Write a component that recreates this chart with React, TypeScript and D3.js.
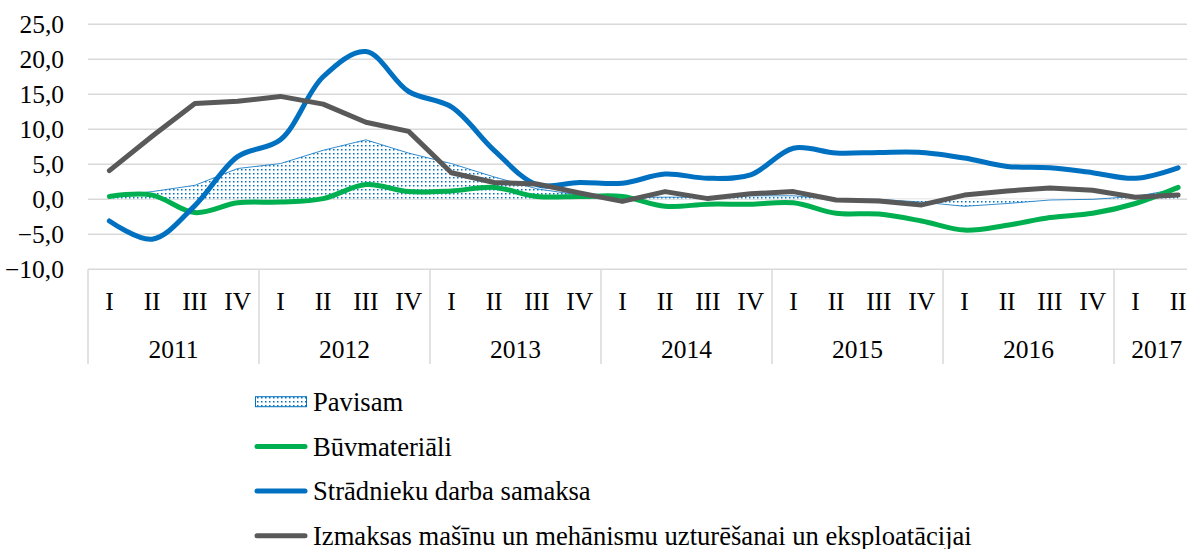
import React from 'react';
import * as d3 from 'd3';

const years = ['2011', '2012', '2013', '2014', '2015', '2016', '2017'];
const quarterNames = ['I', 'II', 'III', 'IV'];
const quartersPerYear = [4, 4, 4, 4, 4, 4, 2];

// Pavisam (area)
const totalValues = [0.4, 1.1, 2.0, 4.4, 5.1, 7.0, 8.5, 6.6, 5.1, 3.2, 1.5, 0.6, 0.3, 0.3, 0.3, 0.5, 0.5, 0.0, 0.0, -0.4, -1.0, -0.6, -0.1, 0.0, 0.4, 1.5];
// Būvmateriāli
const materialValues = [0.4, 0.6, -1.9, -0.5, -0.4, 0.1, 2.1, 1.1, 1.2, 1.7, 0.4, 0.4, 0.4, -1.0, -0.7, -0.7, -0.5, -2.0, -2.1, -3.1, -4.4, -3.7, -2.6, -2.0, -0.6, 1.7];
// Strādnieku darba samaksa
const wageValues = [-3.1, -5.7, -0.9, 6.1, 8.5, 17.5, 21.1, 15.4, 13.2, 7.0, 2.1, 2.4, 2.3, 3.6, 3.0, 3.5, 7.3, 6.6, 6.7, 6.7, 5.9, 4.7, 4.5, 3.8, 3.0, 4.5];
// Izmaksas mašīnu un mehānismu ...
const machineValues = [4.1, 9.0, 13.7, 14.0, 14.7, 13.6, 11.0, 9.7, 3.8, 2.4, 2.2, 0.9, -0.3, 1.1, 0.1, 0.8, 1.1, -0.1, -0.25, -0.8, 0.6, 1.2, 1.6, 1.3, 0.3, 0.6];

const yTicks = [25, 20, 15, 10, 5, 0, -5, -10];

const legendItems = [
  { label: 'Pavisam', kind: 'area', color: '#0070C0' },
  { label: 'Būvmateriāli', kind: 'line', color: '#00B050' },
  { label: 'Strādnieku darba samaksa', kind: 'line', color: '#0070C0' },
  { label: 'Izmaksas mašīnu un mehānismu uzturēšanai un eksploatācijai', kind: 'line', color: '#595959' },
];

const W = 1187;
const H = 549;
const font = 'Liberation Serif, Times New Roman, serif';
const fs = 25.5;
const legendFs = 26.6;

export default function App() {
  const x = d3.scaleLinear().domain([0, 26]).range([88, 1199.5]);
  const y = d3.scaleLinear().domain([-10, 25]).range([269.3, 24.3]);
  const px = (i: number) => x(i + 0.5);

  const area = d3.area<number>().x((_, i) => px(i)).y0(y(0)).y1(d => y(d));
  const topLine = d3.line<number>().x((_, i) => px(i)).y(d => y(d));
  const smooth = d3.line<number>().x((_, i) => px(i)).y(d => y(d)).curve(d3.curveCatmullRom.alpha(0.5));
  const straight = d3.line<number>().x((_, i) => px(i)).y(d => y(d));

  // quarter labels and year boundaries
  const qLabels: { label: string; i: number }[] = [];
  const bounds: number[] = [0];
  const yearCenters: { label: string; c: number }[] = [];
  let k = 0;
  years.forEach((yr, yi) => {
    const n = quartersPerYear[yi];
    for (let q = 0; q < n; q++) qLabels.push({ label: quarterNames[q], i: k + q });
    yearCenters.push({ label: yr, c: k + n / 2 });
    k += n;
    bounds.push(k);
  });

  return (
    <svg width={W} height={H} style={{ position: 'absolute', left: 0, top: 0, background: '#fff' }} fontFamily={font}>
      <defs>
        <pattern id="dots" width={4} height={4} patternUnits="userSpaceOnUse">
          <rect width={4} height={4} fill="#fff" />
          <rect x={1} y={1} width={1.5} height={1.5} fill="#0070C0" />
        </pattern>
      </defs>

      {/* gridlines */}
      {yTicks.map(t => (
        <line key={t} x1={x(0)} x2={W} y1={y(t)} y2={y(t)} stroke="#D9D9D9" strokeWidth={1.5} />
      ))}
      {yTicks.map(t => (
        <text key={'t' + t} x={64} y={y(t)} dy="0.35em" textAnchor="end" fontSize={fs} fill="#000">
          {d3.format('.1f')(t).replace('.', ',')}
        </text>
      ))}

      {/* category axis box */}
      {bounds.map(b => (
        <line key={'b' + b} x1={x(b)} x2={x(b)} y1={y(-10)} y2={364} stroke="#D9D9D9" strokeWidth={1.5} />
      ))}
      {qLabels.map(q => (
        <text key={'q' + q.i} x={px(q.i)} y={301} dy="0.35em" textAnchor="middle" fontSize={fs}>{q.label}</text>
      ))}
      {yearCenters.map(yc => (
        <text key={yc.label} x={x(yc.c)} y={349} dy="0.35em" textAnchor="middle" fontSize={fs}>{yc.label}</text>
      ))}

      {/* series */}
      <path d={area(totalValues) ?? ''} fill="url(#dots)" />
      <path d={topLine(totalValues) ?? ''} fill="none" stroke="#0070C0" strokeWidth={0.8} />
      <path d={smooth(materialValues) ?? ''} fill="none" stroke="#00B050" strokeWidth={5} strokeLinecap="round" strokeLinejoin="round" />
      <path d={smooth(wageValues) ?? ''} fill="none" stroke="#0070C0" strokeWidth={5} strokeLinecap="round" strokeLinejoin="round" />
      <path d={straight(machineValues) ?? ''} fill="none" stroke="#595959" strokeWidth={5} strokeLinecap="round" strokeLinejoin="round" />

      {/* legend */}
      {legendItems.map((item, i) => {
        const cy = 401.7 + i * 44.7;
        return (
          <g key={item.label}>
            {item.kind === 'area' ? (
              <rect x={255.5} y={cy - 5} width={51} height={10} fill="url(#dots)" stroke={item.color} strokeWidth={1} />
            ) : (
              <line x1={257} x2={305} y1={cy} y2={cy} stroke={item.color} strokeWidth={5} strokeLinecap="round" />
            )}
            <text x={313} y={cy} dy="0.35em" fontSize={legendFs}>{item.label}</text>
          </g>
        );
      })}
    </svg>
  );
}
